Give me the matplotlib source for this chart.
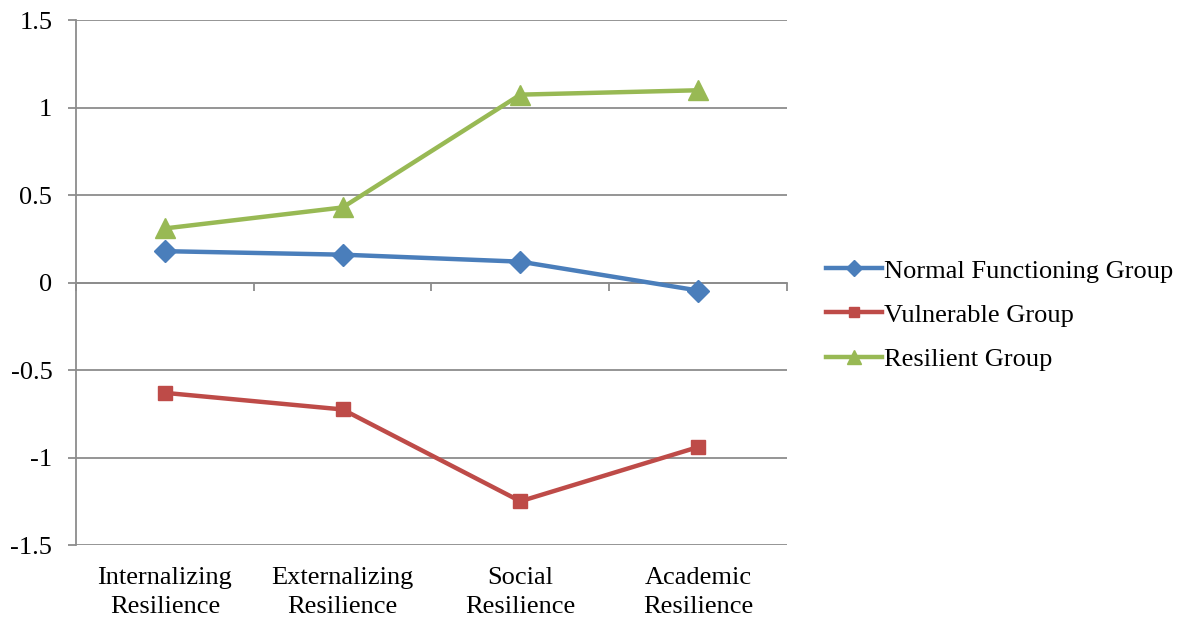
import matplotlib.pyplot as plt
from matplotlib.transforms import blended_transform_factory

categories = ["Internalizing\nResilience", "Externalizing\nResilience",
              "Social\nResilience", "Academic\nResilience"]
normal = [0.18, 0.16, 0.12, -0.045]
vulnerable = [-0.63, -0.725, -1.25, -0.94]
resilient = [0.31, 0.43, 1.075, 1.10]
y_ticks = [-1.5, -1, -0.5, 0, 0.5, 1, 1.5]
y_labels = ["-1.5", "-1", "-0.5", "0", "0.5", "1", "1.5"]

plt.rcParams["font.family"] = ["Liberation Serif", "DejaVu Serif"]
grid_c = "#8c8c8c"
fs = 19

fig = plt.figure(figsize=(11.89, 6.23), dpi=100)
ax = fig.add_axes([0.0639, 0.1252, 0.598, 0.8422])

x = range(len(categories))
ax.plot(x, normal, color="#4A7EBB", lw=3.2, marker="D", ms=11,
        label="Normal Functioning Group", zorder=3)
ax.plot(x, vulnerable, color="#BE4B48", lw=3.2, marker="s", ms=10,
        label="Vulnerable Group", zorder=3)
ax.plot(x, resilient, color="#98B954", lw=3.2, marker="^", ms=14,
        label="Resilient Group", zorder=3)

ax.set_xlim(-0.5, 3.5)
ax.set_ylim(-1.5, 1.5)
ax.set_yticks(y_ticks)
ax.set_yticklabels(y_labels, fontsize=fs)
ax.yaxis.grid(True, color=grid_c, lw=1.3)
ax.set_axisbelow(True)

for s in ["top", "right"]:
    ax.spines[s].set_visible(False)
ax.spines["left"].set_color(grid_c)
ax.spines["left"].set_linewidth(1.3)
ax.spines["bottom"].set_position(("data", 0))
ax.spines["bottom"].set_color(grid_c)
ax.spines["bottom"].set_linewidth(1.3)
ax.set_xticks([-0.5, 0.5, 1.5, 2.5, 3.5])
ax.set_xticklabels([])
ax.tick_params(axis="both", direction="out", color=grid_c, width=1.3, length=6)
ax.tick_params(axis="y", pad=11)

trans = blended_transform_factory(ax.transData, ax.transAxes)
for i, lab in enumerate(categories):
    ax.text(i, -0.042, lab, transform=trans, ha="center", va="top",
            fontsize=fs, linespacing=1.4)

ax.legend(loc="center left", bbox_to_anchor=(0.686, 0.4944),
          bbox_transform=fig.transFigure, frameon=False, markerscale=0.75,
          fontsize=fs, handlelength=2.1, handletextpad=0.1,
          labelspacing=0.78, borderaxespad=0)

fig.savefig("out.png", dpi=100)
